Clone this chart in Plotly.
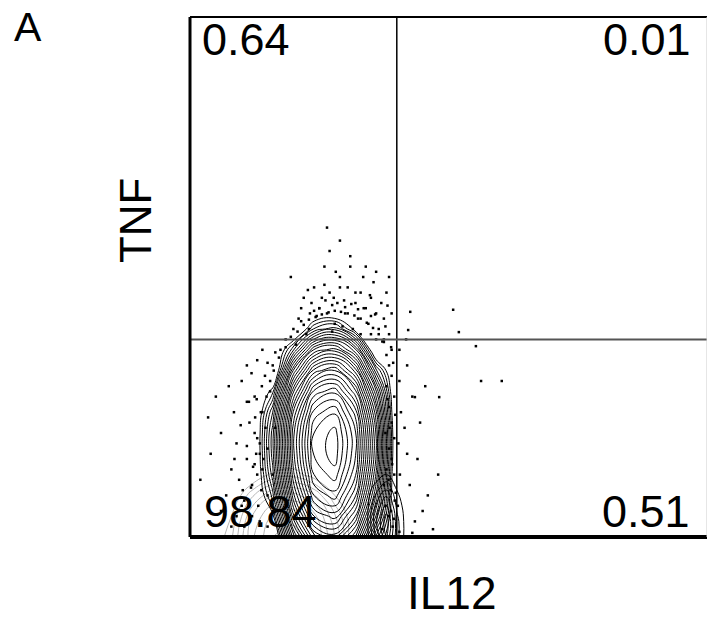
import plotly.graph_objects as go

# ---- data ----
grid_x = [0, 4, 8, 12, 16, 20, 24, 28, 32, 36, 40, 44, 48]
grid_y = [0, 4, 8, 12, 16, 20, 24, 28, 32, 36, 40, 44, 48]
density_main = [
    [-2, -2, -2, -2, -2, 6.5, 11.6, 12.7, 9.6, 2.4, -2, -2, -2],
    [-2, -2, -2, -2, 0.2, 9.4, 14.5, 15.5, 12.4, 5.3, -2, -2, -2],
    [-2, -2, -2, -2, 2.3, 11.5, 16.6, 17.7, 14.6, 7.4, -2, -2, -2],
    [-2, -2, -2, -2, 3.7, 12.9, 18.0, 19.1, 16.0, 8.8, -2, -2, -2],
    [-2, -2, -2, -2, 4.4, 13.6, 18.8, 19.8, 16.7, 9.6, -1.7, -2, -2],
    [-2, -2, -2, -2, 4.4, 13.6, 18.7, 19.7, 16.7, 9.5, -1.7, -2, -2],
    [-2, -2, -2, -2, 3.3, 12.5, 17.6, 18.6, 15.6, 8.4, -2, -2, -2],
    [-2, -2, -2, -2, 1.0, 10.2, 15.4, 16.4, 13.3, 6.2, -2, -2, -2],
    [-2, -2, -2, -2, -2, 6.9, 12.0, 13.1, 10.0, 2.8, -2, -2, -2],
    [-2, -2, -2, -2, -2, 2.5, 7.6, 8.6, 5.6, -1.6, -2, -2, -2],
    [-2, -2, -2, -2, -2, -2, 2.0, 3.1, 0.0, -2, -2, -2, -2],
    [-2, -2, -2, -2, -2, -2, -2, -2, -2, -2, -2, -2, -2],
    [-2, -2, -2, -2, -2, -2, -2, -2, -2, -2, -2, -2, -2],
]

gray_x = [4, 8, 12, 16, 20, 24, 28, 32]
gray_y = [0, 4, 8, 12, 16]
density_gray = [
    [-1, 1.3, 5.3, 7.5, 7.9, 6.6, 3.5, -1],
    [-1, 0.5, 4.5, 6.7, 7.2, 5.9, 2.7, -1],
    [-1, -1, 2.3, 4.5, 4.9, 3.6, 0.5, -1],
    [-1, -1, -1, 0.7, 1.1, -0.2, -1, -1],
    [-1, -1, -1, -1, -1, -1, -1, -1],
]

strip_x = [34, 36, 38, 40, 42]
strip_y = [0, 3, 6, 9, 12, 15]
density_strip = [
    [0, 2.0, 4.0, 1.5, 0],
    [0, 2.5, 4.5, 1.5, 0],
    [0, 2.0, 3.5, 1.0, 0],
    [0, 1.0, 2.0, 0.5, 0],
    [0, 0.0, 0.5, 0.0, 0],
    [0, 0.0, 0.0, 0.0, 0],
]

dot_x = [
    19.5, 22, 24, 25, 26, 27, 28, 28.5, 29, 30, 30.5, 31, 32, 32.5, 33, 33.5, 34, 34.5, 35, 35.5,
    36, 36.5, 37, 37.5, 38, 38.5, 39, 21, 23, 24.5, 26.5, 27.5, 29.5, 31.5, 33, 35, 36, 37.5, 22.5, 20,
    21.5, 23.5, 25.5, 29, 31, 27, 34, 36, 38.5, 39, 20.5, 18.5, 17.5, 26.5, 28.2,
    2, 4, 5, 6, 7, 8, 8.5, 9, 10, 10, 11, 11.5, 12, 12.5, 13, 13.5, 14, 14, 14.5, 15,
    15, 15.5, 16, 16.5, 13, 11, 9.5, 12, 10.5, 7.5, 6, 3.5, 16, 16, 15, 14, 13.5, 12.5, 11, 8,
    37.5, 38, 38.5, 39, 38, 39.5, 38.5, 39, 37.8, 39.5, 38.5, 39, 38, 39.5, 37.5, 38.8, 39.6, 37.8, 38.5, 39.2,
    37.2, 40.5, 40.5, 40.8, 40.3, 40.6, 40.2, 40.5,
    42, 43, 41.5, 44, 42.5, 45, 43.5, 46, 41.8, 47, 44.5, 42, 48, 43, 45.5,
    42.6, 50.9, 42.2, 52.0, 55.3, 56.3, 60.3, 48.2, 43.5,
    13.2, 13.8, 13.0, 14.2, 13.5, 14.6, 13.7, 14.8, 15.5, 16.2, 17.2, 18.5, 12.8, 12.5, 13.9, 15, 16.5,
    19.5, 20.8, 22, 23, 24.3, 25.5, 26.8, 28, 29.2, 30.5, 31.8, 33, 34.2, 35.4, 36.5, 37.2, 24, 27.5, 30, 32.5, 35,
    21.5, 23.2, 25, 26.2, 27.8, 29.8, 31.2, 33.6, 35.8, 37.8, 22.8, 26, 29, 32, 34.8, 38.2,
    9, 10.5, 11.8, 12.2, 11, 9.8, 12.6, 11.4, 10.2, 8.6, 12.9, 11.9,
    38.9, 39.3, 38.2, 39.7, 38.6, 39.1, 38.4, 39.8, 38.9, 39.4,
]
dot_y = [
    50, 46, 48, 44, 52, 47, 41, 45, 50, 43, 48, 54, 45, 42, 47, 50, 44, 41, 46, 49,
    43, 40, 45, 42, 47, 39, 43, 42, 40, 42.5, 43, 39.5, 40.5, 40, 39, 39, 38, 37.5, 39, 40,
    44, 45, 46, 57, 52, 55, 52, 51, 50, 36, 37, 38, 36, 59.5, 51,
    11, 16, 27, 20, 8, 13, 24, 18, 30, 6, 15, 22, 10, 27, 19, 3, 13, 24, 31, 8,
    17, 28, 33, 21, 34, 33, 11, 4, 2, 29, 5, 23, 12, 5, 2, 36, 16, 14, 26, 2,
    38, 35, 33, 31, 29, 27, 25, 22, 20, 19, 17, 15, 13, 12, 10, 9, 7, 6, 4, 2,
    1.5, 36, 30, 24, 18, 12, 6, 1,
    33, 27, 21, 15, 10, 5, 3, 8, 38, 1.5, 22, 16, 12, 0.8, 29,
    43.3, 43.7, 39.8, 39.4, 36.7, 30.0, 30.0, 26.9, 26.9,
    6, 9, 12, 15, 18, 21, 24, 27, 30, 32, 34.5, 36.5, 16, 20, 29, 33.5, 35.5,
    38.5, 39.5, 40.8, 41.8, 42.3, 42.8, 43.2, 43.5, 43.3, 43, 42.6, 42, 41.2, 40.2, 39, 37.6, 43.5, 44.6, 44.2, 43.8, 42.5,
    41.5, 43, 44, 45.5, 46, 45.5, 44.8, 44, 42.8, 40.5, 47.5, 48.5, 48, 47, 46.5, 44.5,
    4, 7, 9.5, 13.5, 17.5, 21.5, 23, 26, 9, 15, 26.5, 31.5,
    36.5, 33.5, 26.5, 23.5, 21, 14, 11, 8.5, 5, 3.5,
]

gate_x = 40
gate_y = 38
quadrant_labels = ["0.64", "0.01", "98.84", "0.51"]
x_title = "IL12"
y_title = "TNF"
panel_label = "A"

FONT = "Liberation Sans, Arial, sans-serif"

fig = go.Figure()

fig.add_trace(go.Contour(
    x=gray_x, y=gray_y, z=density_gray,
    contours=dict(coloring="lines", start=0.5, end=8, size=1),
    colorscale=[[0, "#b5b5b5"], [1, "#b5b5b5"]],
    line=dict(width=1, smoothing=1.3), showscale=False, hoverinfo="skip",
))
fig.add_trace(go.Contour(
    x=grid_x, y=grid_y, z=density_main,
    contours=dict(coloring="lines", start=0.5, end=20, size=0.7),
    colorscale=[[0, "black"], [1, "black"]],
    line=dict(width=1, smoothing=1.3), showscale=False, hoverinfo="skip",
))
fig.add_trace(go.Contour(
    x=strip_x, y=strip_y, z=density_strip,
    contours=dict(coloring="lines", start=0.5, end=5, size=0.7),
    colorscale=[[0, "black"], [1, "black"]],
    line=dict(width=1, smoothing=1.3), showscale=False, hoverinfo="skip",
))
fig.add_trace(go.Scatter(
    x=dot_x, y=dot_y, mode="markers",
    marker=dict(symbol="square", size=2.5, color="black", line=dict(width=0)),
    hoverinfo="skip", showlegend=False,
))

# gates
fig.add_shape(type="line", xref="x", yref="paper", x0=gate_x, x1=gate_x, y0=0, y1=1,
              line=dict(color="black", width=1.5))
fig.add_shape(type="line", xref="paper", yref="y", x0=0, x1=1, y0=gate_y, y1=gate_y,
              line=dict(color="#555555", width=2))
# frame
fig.add_shape(type="line", xref="paper", yref="paper", x0=0, x1=0, y0=0, y1=1,
              line=dict(color="black", width=3))
fig.add_shape(type="line", xref="paper", yref="paper", x0=0, x1=1, y0=0, y1=0,
              line=dict(color="black", width=4))
fig.add_shape(type="line", xref="paper", yref="paper", x0=0, x1=1, y0=1, y1=1,
              line=dict(color="black", width=2))
fig.add_shape(type="line", xref="paper", yref="paper", x0=1, x1=1, y0=0, y1=1,
              line=dict(color="#cccccc", width=1))

qfont = dict(family=FONT, size=45, color="black")
fig.add_annotation(x=1.9, y=95.6, xref="x", yref="y", text=quadrant_labels[0],
                   xanchor="left", yanchor="middle", showarrow=False, font=qfont)
fig.add_annotation(x=97.3, y=95.6, xref="x", yref="y", text=quadrant_labels[1],
                   xanchor="right", yanchor="middle", showarrow=False, font=qfont)
fig.add_annotation(x=2.3, y=5.0, xref="x", yref="y", text=quadrant_labels[2],
                   xanchor="left", yanchor="middle", showarrow=False, font=qfont)
fig.add_annotation(x=97.1, y=5.0, xref="x", yref="y", text=quadrant_labels[3],
                   xanchor="right", yanchor="middle", showarrow=False, font=qfont)

fig.add_annotation(x=0.507, y=-0.107, xref="paper", yref="paper", text=x_title,
                   xanchor="center", yanchor="middle", showarrow=False,
                   font=dict(family=FONT, size=46, color="black"))
fig.add_annotation(x=-0.104, y=0.61, xref="paper", yref="paper", text=y_title,
                   textangle=-90, xanchor="center", yanchor="middle", showarrow=False,
                   font=dict(family=FONT, size=44, color="black"))
fig.add_annotation(x=-0.314, y=0.981, xref="paper", yref="paper", text=panel_label,
                   xanchor="center", yanchor="middle", showarrow=False,
                   font=dict(family=FONT, size=41, color="black"))

fig.update_xaxes(range=[0, 100], visible=False, showgrid=False, zeroline=False)
fig.update_yaxes(range=[0, 100], visible=False, showgrid=False, zeroline=False)
fig.update_layout(
    width=707, height=622,
    margin=dict(l=190, r=0, t=17, b=85),
    plot_bgcolor="white", paper_bgcolor="white",
    showlegend=False,
)

fig.write_html("out.html")
